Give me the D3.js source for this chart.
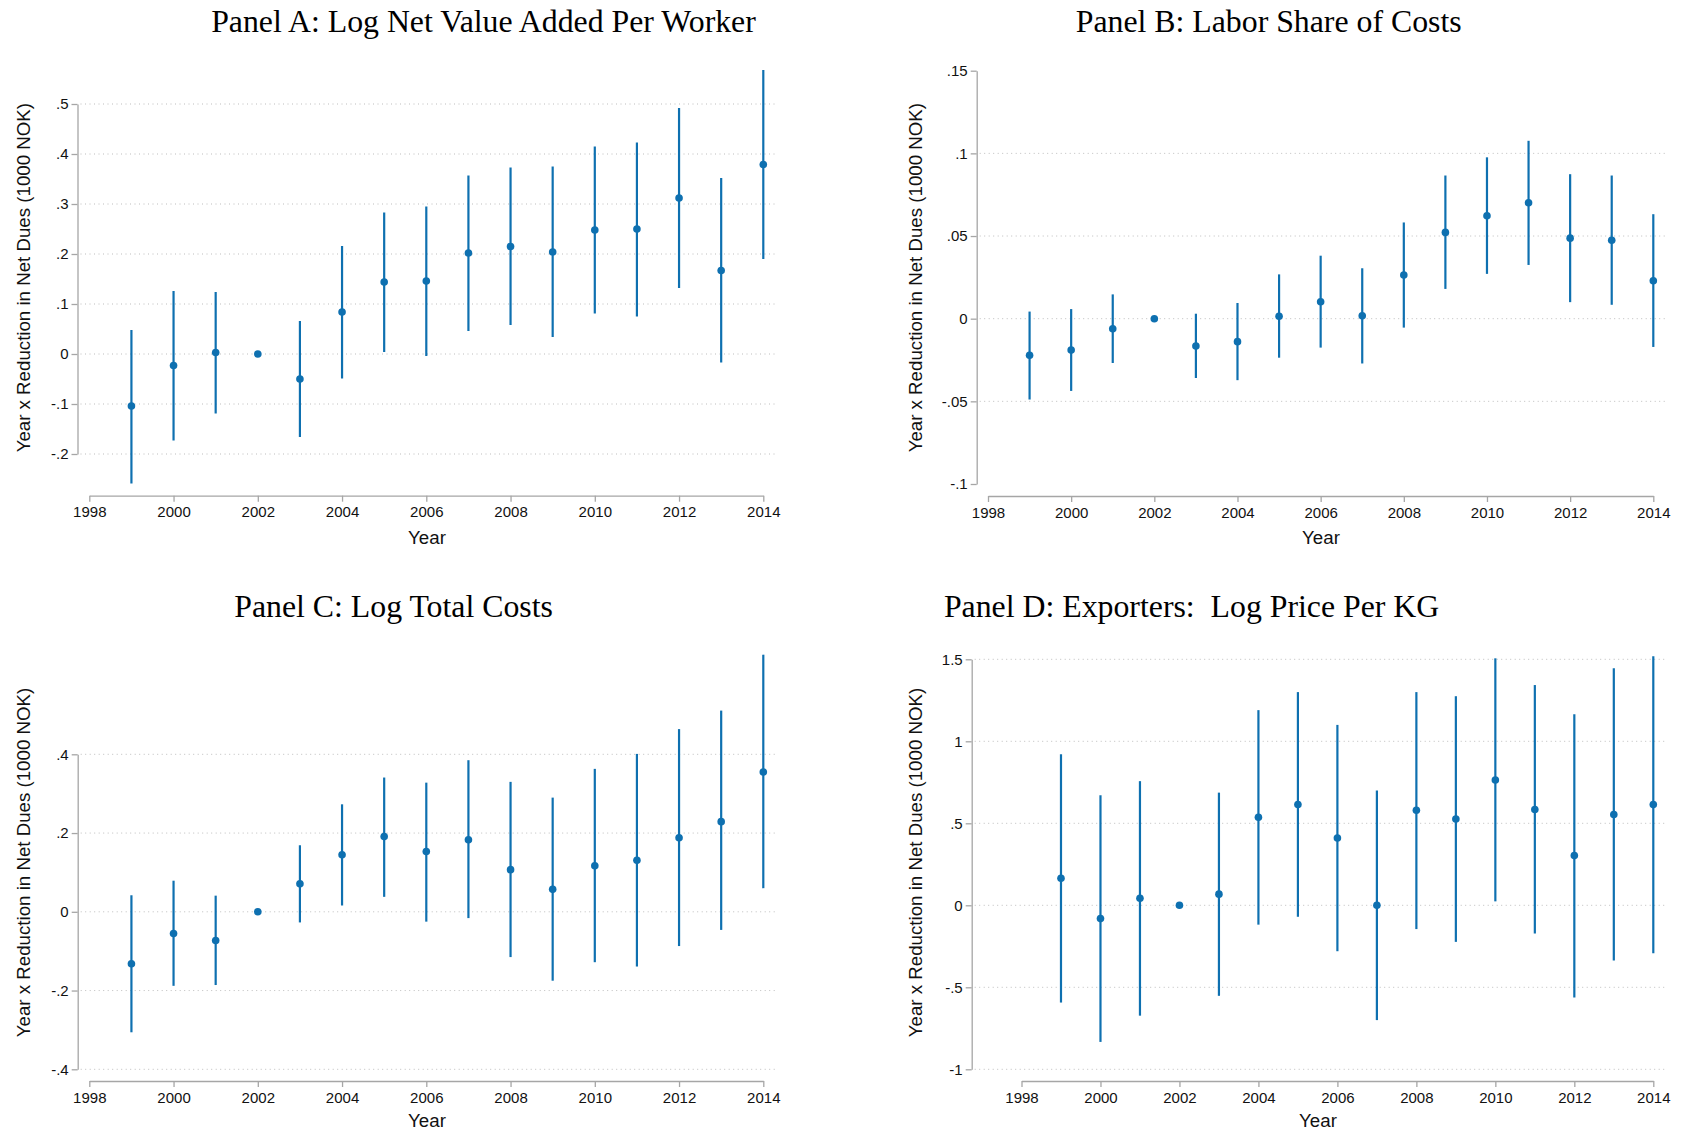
<!DOCTYPE html>
<html>
<head>
<meta charset="utf-8">
<script src="https://cdn.jsdelivr.net/npm/d3@7"></script>
<style>
  html, body { margin: 0; padding: 0; background: #ffffff; }
  svg { display: block; }
</style>
</head>
<body>
<svg id="chart" width="1681" height="1132"></svg>
<script>
// ---------------- DATA ----------------
const years = [1999, 2000, 2001, 2002, 2003, 2004, 2005, 2006, 2007, 2008, 2009, 2010, 2011, 2012, 2013, 2014];
const xTickValues = [1998, 2000, 2002, 2004, 2006, 2008, 2010, 2012, 2014];
const xAxisTitle = "Year";
const yAxisTitle = "Year x Reduction in Net Dues (1000 NOK)";

// Panel A
const titleA = "Panel A: Log Net Value Added Per Worker";
const estA = [-0.104, -0.023, 0.003, 0, -0.050, 0.084, 0.144, 0.146, 0.202, 0.215, 0.204, 0.248, 0.250, 0.312, 0.167, 0.379];
const loA  = [-0.259, -0.173, -0.119, null, -0.166, -0.049, 0.004, -0.004, 0.046, 0.058, 0.034, 0.081, 0.075, 0.132, -0.017, 0.190];
const hiA  = [0.048, 0.126, 0.124, null, 0.066, 0.216, 0.283, 0.295, 0.357, 0.373, 0.375, 0.415, 0.423, 0.492, 0.352, 0.568];
const yTicksA  = [-0.2, -0.1, 0, 0.1, 0.2, 0.3, 0.4, 0.5];
const yLabelsA = ["-.2", "-.1", "0", ".1", ".2", ".3", ".4", ".5"];
const gridA    = [-0.2, -0.1, 0, 0.1, 0.2, 0.3, 0.4, 0.5];

// Panel B
const titleB = "Panel B: Labor Share of Costs";
const estB = [-0.0221, -0.0190, -0.0061, 0, -0.0165, -0.0139, 0.0015, 0.0102, 0.0017, 0.0264, 0.0522, 0.0623, 0.0701, 0.0487, 0.0474, 0.0229];
const loB  = [-0.0489, -0.0437, -0.0268, null, -0.0359, -0.0372, -0.0236, -0.0175, -0.0271, -0.0054, 0.0180, 0.0271, 0.0325, 0.0100, 0.0084, -0.0171];
const hiB  = [0.0043, 0.0058, 0.0147, null, 0.0030, 0.0095, 0.0268, 0.0381, 0.0305, 0.0582, 0.0866, 0.0976, 0.1076, 0.0874, 0.0866, 0.0632];
const yTicksB  = [-0.1, -0.05, 0, 0.05, 0.1, 0.15];
const yLabelsB = ["-.1", "-.05", "0", ".05", ".1", ".15"];
const gridB    = [-0.05, 0, 0.05, 0.1];

// Panel C
const titleC = "Panel C: Log Total Costs";
const estC = [-0.132, -0.055, -0.073, 0, 0.071, 0.145, 0.191, 0.153, 0.183, 0.107, 0.057, 0.117, 0.131, 0.188, 0.229, 0.355];
const loC  = [-0.306, -0.188, -0.186, null, -0.027, 0.016, 0.038, -0.025, -0.016, -0.115, -0.175, -0.128, -0.139, -0.087, -0.046, 0.060];
const hiC  = [0.042, 0.079, 0.041, null, 0.169, 0.273, 0.341, 0.328, 0.385, 0.330, 0.290, 0.363, 0.401, 0.464, 0.511, 0.653];
const yTicksC  = [-0.4, -0.2, 0, 0.2, 0.4];
const yLabelsC = ["-.4", "-.2", "0", ".2", ".4"];
const gridC    = [-0.4, -0.2, 0, 0.2, 0.4];

// Panel D
const titleD = "Panel D: Exporters:  Log Price Per KG";
const estD = [0.165, -0.081, 0.043, 0, 0.068, 0.537, 0.615, 0.410, 0.000, 0.580, 0.526, 0.764, 0.584, 0.303, 0.554, 0.614];
const loD  = [-0.593, -0.833, -0.673, null, -0.552, -0.118, -0.070, -0.280, -0.700, -0.145, -0.223, 0.024, -0.172, -0.562, -0.337, -0.292];
const hiD  = [0.921, 0.671, 0.757, null, 0.687, 1.190, 1.300, 1.100, 0.700, 1.300, 1.275, 1.506, 1.343, 1.165, 1.446, 1.519];
const yTicksD  = [-1, -0.5, 0, 0.5, 1, 1.5];
const yLabelsD = ["-1", "-.5", "0", ".5", "1", "1.5"];
const gridD    = [-1, -0.5, 0, 0.5, 1, 1.5];

// ---------------- STYLE ----------------
const markColor = "#0e70b0";
const axisColor = "#a6a6a6";
const gridColor = "#bdbdbd";
const textColor = "#111111";
const serif = "'Liberation Serif','Times New Roman',Times,serif";
const sans = "'Liberation Sans',Arial,Helvetica,sans-serif";

// ---------------- LAYOUT ----------------
const panels = [
  { title: titleA, est: estA, lo: loA, hi: hiA, yTicks: yTicksA, yLabels: yLabelsA, grid: gridA,
    axisX: 77.5, x0: 89.3, x1: 763.3, yBottom: 454, yTop: 104, axisY: 495.7, gridRight: 777,
    titleX: 483.5, titleY: 32, yTitleX: 23.5, yTitleY: 277.7, xTitleX: 427, xTitleY: 544 },
  { title: titleB, est: estB, lo: loB, hi: hiB, yTicks: yTicksB, yLabels: yLabelsB, grid: gridB,
    axisX: 976.7, x0: 988, x1: 1653.3, yBottom: 484, yTop: 70.7, axisY: 496, gridRight: 1666,
    titleX: 1268.7, titleY: 32, yTitleX: 915, yTitleY: 277.7, xTitleX: 1321, xTitleY: 544 },
  { title: titleC, est: estC, lo: loC, hi: hiC, yTicks: yTicksC, yLabels: yLabelsC, grid: gridC,
    axisX: 77.7, x0: 89.3, x1: 763.3, yBottom: 1069.3, yTop: 754.3, axisY: 1081, gridRight: 777,
    titleX: 393.6, titleY: 617, yTitleX: 23.5, yTitleY: 862.5, xTitleX: 427, xTitleY: 1127 },
  { title: titleD, est: estD, lo: loD, hi: hiD, yTicks: yTicksD, yLabels: yLabelsD, grid: gridD,
    axisX: 971.7, x0: 1021.5, x1: 1653.3, yBottom: 1069.3, yTop: 659.3, axisY: 1081, gridRight: 1665,
    titleX: 1191.6, titleY: 617, yTitleX: 915, yTitleY: 862.5, xTitleX: 1318, xTitleY: 1127 }
];

const svg = d3.select("#chart");
svg.append("rect").attr("width", 1681).attr("height", 1132).attr("fill", "#fff");

function drawPanel(p) {
  const g = svg.append("g");
  const x = d3.scaleLinear().domain([xTickValues[0], xTickValues[xTickValues.length - 1]]).range([p.x0, p.x1]);
  const y = d3.scaleLinear().domain([p.yTicks[0], p.yTicks[p.yTicks.length - 1]]).range([p.yBottom, p.yTop]);

  // gridlines
  g.append("g").selectAll("line").data(p.grid).join("line")
    .attr("x1", p.axisX + 3).attr("x2", p.gridRight)
    .attr("y1", d => y(d)).attr("y2", d => y(d))
    .attr("stroke", gridColor).attr("stroke-width", 1)
    .attr("stroke-dasharray", "1,3.5");

  // y axis
  const yAxis = d3.axisLeft(y).tickValues(p.yTicks)
    .tickFormat((d, i) => p.yLabels[i]).tickSize(6).tickSizeOuter(0).tickPadding(3);
  const ya = g.append("g").attr("transform", `translate(${p.axisX},0)`).call(yAxis);
  ya.select(".domain").attr("stroke", axisColor).attr("stroke-width", 1.3);
  ya.selectAll(".tick line").attr("stroke", axisColor).attr("stroke-width", 1.3);
  ya.selectAll(".tick text").attr("fill", textColor).style("font-family", sans).style("font-size", "15px");

  // x axis
  const xAxis = d3.axisBottom(x).tickValues(xTickValues)
    .tickFormat(d3.format("d")).tickSize(6).tickSizeOuter(0).tickPadding(5);
  const xa = g.append("g").attr("transform", `translate(0,${p.axisY})`).call(xAxis);
  xa.select(".domain").attr("stroke", axisColor).attr("stroke-width", 1.3);
  xa.selectAll(".tick line").attr("stroke", axisColor).attr("stroke-width", 1.3);
  xa.selectAll(".tick text").attr("fill", textColor).style("font-family", sans).style("font-size", "15px");

  const rows = years.map((yr, i) => ({ yr, est: p.est[i], lo: p.lo[i], hi: p.hi[i] }));

  // CI spikes
  g.append("g").selectAll("line").data(rows.filter(d => d.lo !== null)).join("line")
    .attr("x1", d => x(d.yr)).attr("x2", d => x(d.yr))
    .attr("y1", d => y(d.lo)).attr("y2", d => y(d.hi))
    .attr("stroke", markColor).attr("stroke-width", 2.2);

  // points
  g.append("g").selectAll("circle").data(rows).join("circle")
    .attr("cx", d => x(d.yr)).attr("cy", d => y(d.est)).attr("r", 3.8)
    .attr("fill", markColor);

  // titles
  g.append("text").attr("x", p.titleX).attr("y", p.titleY)
    .attr("text-anchor", "middle").attr("fill", "#000")
    .style("font-family", serif).style("font-size", "31.8px").style("white-space", "pre")
    .text(p.title);

  g.append("text")
    .attr("transform", `translate(${p.yTitleX},${p.yTitleY}) rotate(-90)`)
    .attr("text-anchor", "middle").attr("dy", "0.36em").attr("fill", textColor)
    .style("font-family", sans).style("font-size", "18.7px")
    .text(yAxisTitle);

  g.append("text").attr("x", p.xTitleX).attr("y", p.xTitleY)
    .attr("text-anchor", "middle").attr("fill", textColor)
    .style("font-family", sans).style("font-size", "18.7px")
    .text(xAxisTitle);
}

panels.forEach(drawPanel);
</script>
</body>
</html>
